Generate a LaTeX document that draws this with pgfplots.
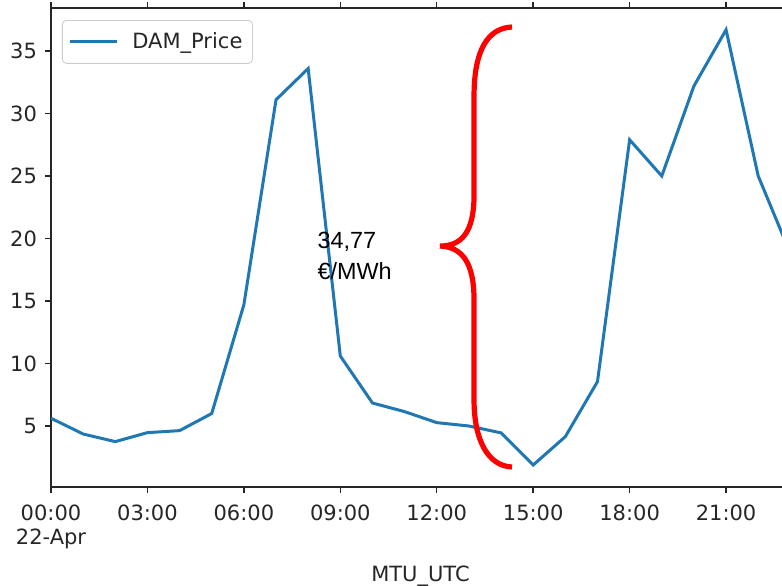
\documentclass[border=0pt]{standalone}
\usepackage{pgfplots}
\pgfplotsset{compat=1.18}
\usepackage{fontspec}
\setmainfont{DejaVu Sans}
\newfontfamily\annfont{Liberation Sans}
\definecolor{mplblue}{HTML}{1F77B4}
\definecolor{tickgray}{HTML}{262626}
\begin{document}
\begin{tikzpicture}
\begin{axis}[
  at={(0,0)}, anchor=origin,
  scale only axis, width=365.5pt, height=239.5pt,
  xmin=0, xmax=22.74, ymin=0.12, ymax=38.44,
  axis x line*=box, axis y line*=left,
  axis line style={line width=0.7pt, color=tickgray},
  tick align=outside, tick style={line width=0.7pt, color=tickgray},
  major tick length=3pt,
  xtick={0,3,6,9,12,15,18,21},
  xticklabels={{00:00\\22-Apr},03:00,06:00,09:00,12:00,15:00,18:00,21:00},
  xticklabel style={align=center, yshift=-2.5pt, font=\fontsize{10.5}{12}\selectfont, text=tickgray},
  ytick={5,10,15,20,25,30,35},
  yticklabel style={xshift=-0.5pt, font=\fontsize{10.5}{12}\selectfont, text=tickgray},
  /pgf/number format/assume math mode=true,
  xlabel={MTU\_UTC},
  xlabel style={at={(rel axis cs:0.5055,0)}, anchor=north, yshift=-36pt, font=\fontsize{10.5}{12}\selectfont, text=tickgray},
  legend style={at={(rel axis cs:0,1)}, anchor=north west, xshift=5.5pt, yshift=-6pt,
    draw=black!20, rounded corners=2pt, fill=white, inner xsep=3pt, inner ysep=4pt,
    font=\fontsize{10.5}{12}\selectfont, text=tickgray},
  legend image code/.code={\draw[#1, line width=1.5pt] (0pt,0pt) -- (23.5pt,0pt); \path (28.5pt,0pt);},
  legend cell align=left,
]
\addplot[mplblue, line width=1.5pt] coordinates {
(0,5.62) (1,4.36) (2,3.75) (3,4.47) (4,4.63) (5,6.0) (6,14.7) (7,31.1)
(8,33.6) (9,10.6) (10,6.84) (11,6.15) (12,5.27) (13,5.0) (14,4.45) (15,1.88)
(16,4.15) (17,8.55) (18,27.9) (19,25.0) (20,32.2) (21,36.7) (22,25.0) (23,18.8)
};
\addlegendentry{DAM\_Price}
\node[anchor=north west, inner sep=0pt, align=left, font=\annfont\fontsize{11.7}{15.5}\selectfont] at (axis cs:8.28,20.5) {34,77\\€/MWh};
\draw[red, line width=2.6pt]
  (axis cs:14.34,36.92) .. controls (axis cs:13.59,36.84) and (axis cs:13.16,35.08) .. (axis cs:13.16,31.4)
  -- (axis cs:13.16,23.48)
  .. controls (axis cs:13.16,20.52) and (axis cs:12.78,19.4) .. (axis cs:12.10,19.4)
  .. controls (axis cs:12.78,19.32) and (axis cs:13.16,18.12) .. (axis cs:13.16,15.08)
  -- (axis cs:13.16,7.08)
  .. controls (axis cs:13.16,3.88) and (axis cs:13.59,1.8) .. (axis cs:14.34,1.72);
\end{axis}
\pgfresetboundingbox
\path (-25.5pt,-49pt) rectangle (365.5pt,243.5pt);
\end{tikzpicture}
\end{document}
